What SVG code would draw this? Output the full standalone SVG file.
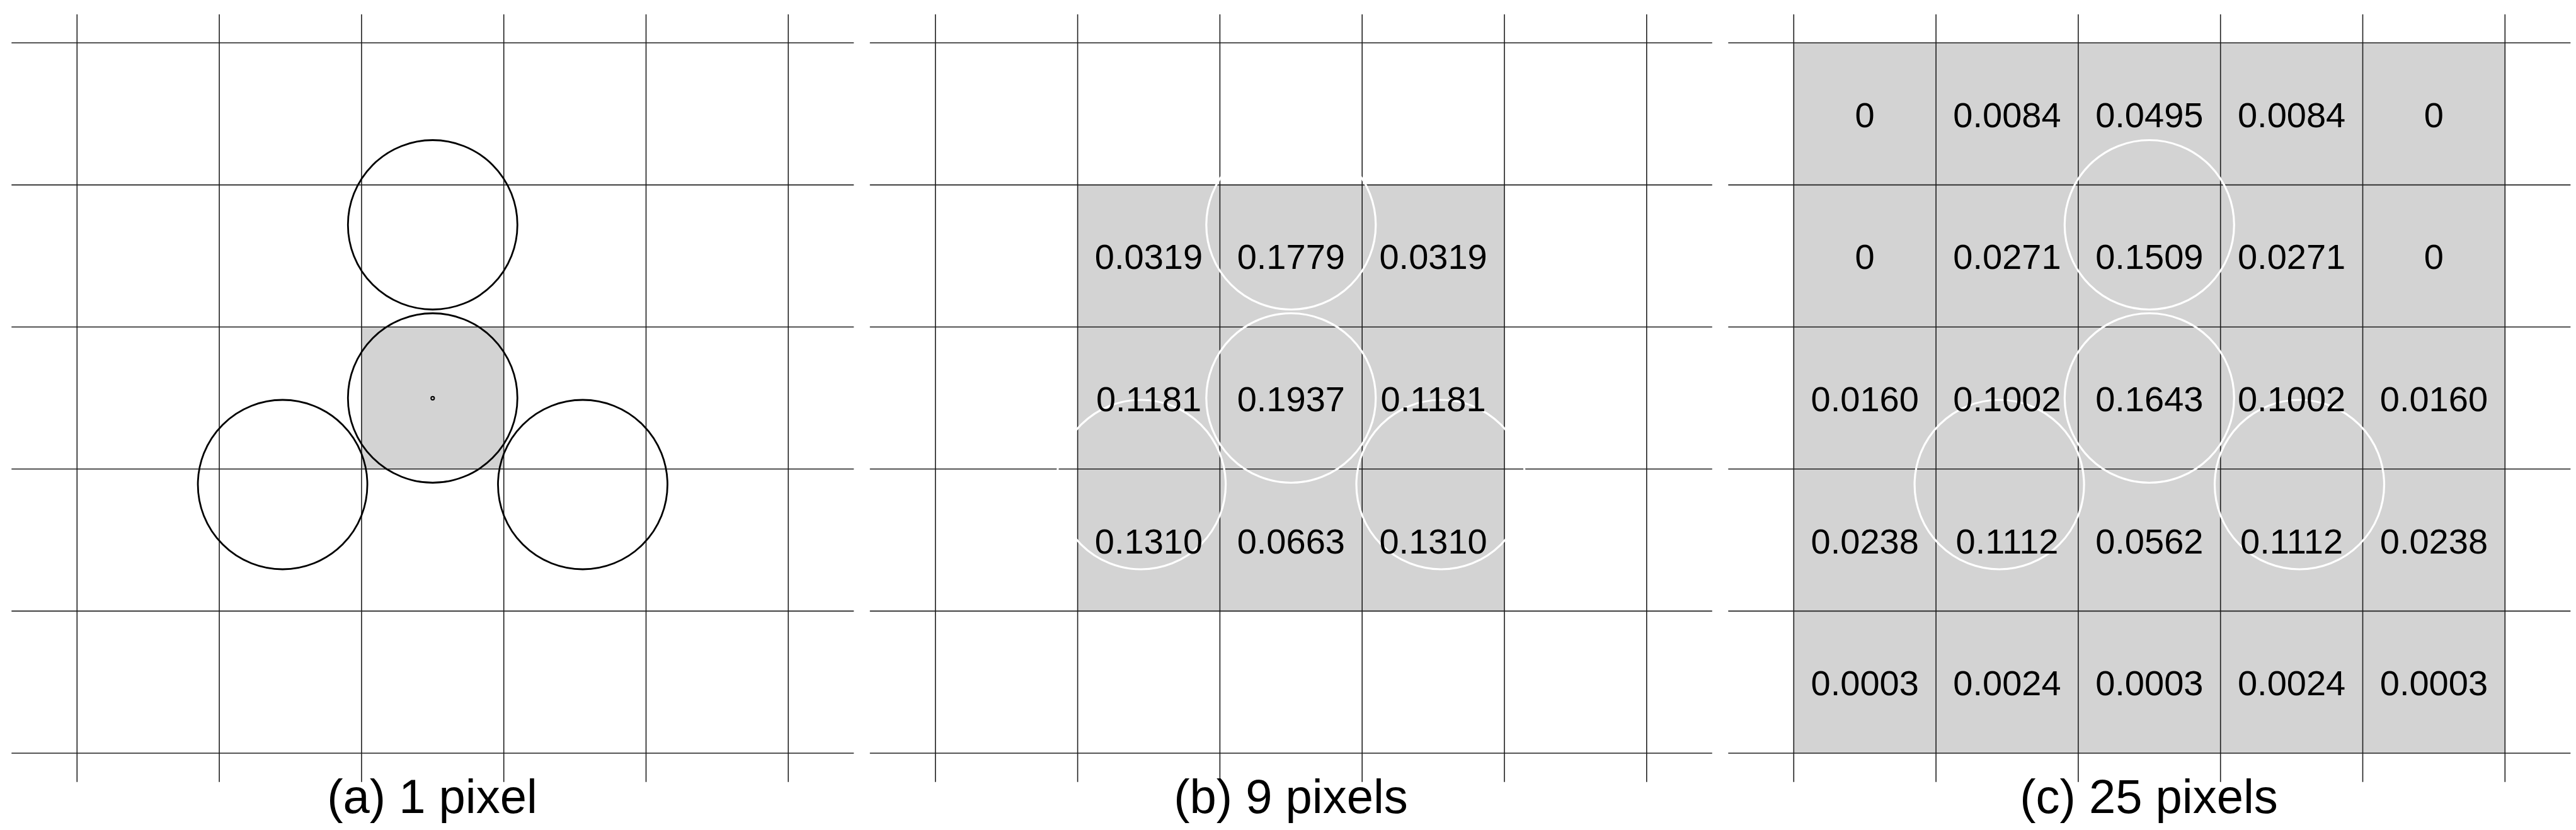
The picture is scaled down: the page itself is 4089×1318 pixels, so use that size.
<svg xmlns="http://www.w3.org/2000/svg" xmlns:xlink="http://www.w3.org/1999/xlink" width="4089" height="1318" viewBox="0 0 4089 1318">
<style>
.grid line{stroke:#1e1e1e;stroke-width:1.6}
.fill{fill:#d3d3d3}
.cb{fill:none;stroke:#000;stroke-width:2.8}
.cw{fill:none;stroke:#fff;stroke-width:3.2}
.v{font-family:"Liberation Sans",Arial,sans-serif;font-size:56px;fill:#000;text-anchor:middle}
.cap{font-family:"Liberation Sans",Arial,sans-serif;font-size:76px;fill:#000;text-anchor:middle}
</style>
<defs>
<g id="gridlines" class="grid">
<line x1="-104" y1="68" x2="1233" y2="68"/>
<line x1="-104" y1="293.6" x2="1233" y2="293.6"/>
<line x1="-104" y1="519.2" x2="1233" y2="519.2"/>
<line x1="-104" y1="744.8" x2="1233" y2="744.8"/>
<line x1="-104" y1="970.4" x2="1233" y2="970.4"/>
<line x1="-104" y1="1196" x2="1233" y2="1196"/>
<line x1="0" y1="22.7" x2="0" y2="1241.7"/>
<line x1="225.8" y1="22.7" x2="225.8" y2="1241.7"/>
<line x1="451.6" y1="22.7" x2="451.6" y2="1241.7"/>
<line x1="677.4" y1="22.7" x2="677.4" y2="1241.7"/>
<line x1="903.2" y1="22.7" x2="903.2" y2="1241.7"/>
<line x1="1129" y1="22.7" x2="1129" y2="1241.7"/>
</g>
</defs>
<rect width="4089" height="1318" fill="#fff"/>

<g id="panel-a">
<rect class="fill" x="573.9" y="519.2" width="225.8" height="225.6"/>
<use xlink:href="#gridlines" href="#gridlines" x="122.3"/>
<circle class="cb" cx="686.8" cy="632" r="134.5"/>
<circle class="cb" cx="686.8" cy="357" r="134.5"/>
<circle class="cb" cx="448.6" cy="769.5" r="134.5"/>
<circle class="cb" cx="925" cy="769.5" r="134.5"/>
<circle cx="686.8" cy="632.3" r="2.6" fill="none" stroke="#000" stroke-width="2"/>
<text class="cap" x="686" y="1291">(a) 1 pixel</text>
</g>

<g id="panel-b">
<rect class="fill" x="1710.6" y="293.6" width="677.4" height="676.8"/>
<use xlink:href="#gridlines" href="#gridlines" x="1484.8"/>
<circle class="cw" cx="2049.3" cy="632" r="134.5"/>
<circle class="cw" cx="2049.3" cy="357" r="134.5"/>
<circle class="cw" cx="1811.1" cy="769.5" r="134.5"/>
<circle class="cw" cx="2287.5" cy="769.5" r="134.5"/>
<text class="v" x="1823.5" y="427.4">0.0319</text>
<text class="v" x="2049.3" y="427.4">0.1779</text>
<text class="v" x="2275.1" y="427.4">0.0319</text>
<text class="v" x="1823.5" y="653">0.1181</text>
<text class="v" x="2049.3" y="653">0.1937</text>
<text class="v" x="2275.1" y="653">0.1181</text>
<text class="v" x="1823.5" y="878.6">0.1310</text>
<text class="v" x="2049.3" y="878.6">0.0663</text>
<text class="v" x="2275.1" y="878.6">0.1310</text>
<text class="cap" x="2049" y="1291">(b) 9 pixels</text>
</g>

<g id="panel-c">
<rect class="fill" x="2847.3" y="68" width="1129" height="1128"/>
<use xlink:href="#gridlines" href="#gridlines" x="2847.3"/>
<circle class="cw" cx="3411.8" cy="632" r="134.5"/>
<circle class="cw" cx="3411.8" cy="357" r="134.5"/>
<circle class="cw" cx="3173.6" cy="769.5" r="134.5"/>
<circle class="cw" cx="3650" cy="769.5" r="134.5"/>
<text class="v" x="2960.2" y="201.8">0</text>
<text class="v" x="3186" y="201.8">0.0084</text>
<text class="v" x="3411.8" y="201.8">0.0495</text>
<text class="v" x="3637.6" y="201.8">0.0084</text>
<text class="v" x="3863.4" y="201.8">0</text>
<text class="v" x="2960.2" y="427.4">0</text>
<text class="v" x="3186" y="427.4">0.0271</text>
<text class="v" x="3411.8" y="427.4">0.1509</text>
<text class="v" x="3637.6" y="427.4">0.0271</text>
<text class="v" x="3863.4" y="427.4">0</text>
<text class="v" x="2960.2" y="653">0.0160</text>
<text class="v" x="3186" y="653">0.1002</text>
<text class="v" x="3411.8" y="653">0.1643</text>
<text class="v" x="3637.6" y="653">0.1002</text>
<text class="v" x="3863.4" y="653">0.0160</text>
<text class="v" x="2960.2" y="878.6">0.0238</text>
<text class="v" x="3186" y="878.6">0.1112</text>
<text class="v" x="3411.8" y="878.6">0.0562</text>
<text class="v" x="3637.6" y="878.6">0.1112</text>
<text class="v" x="3863.4" y="878.6">0.0238</text>
<text class="v" x="2960.2" y="1104.2">0.0003</text>
<text class="v" x="3186" y="1104.2">0.0024</text>
<text class="v" x="3411.8" y="1104.2">0.0003</text>
<text class="v" x="3637.6" y="1104.2">0.0024</text>
<text class="v" x="3863.4" y="1104.2">0.0003</text>
<text class="cap" x="3411" y="1291">(c) 25 pixels</text>
</g>
</svg>
